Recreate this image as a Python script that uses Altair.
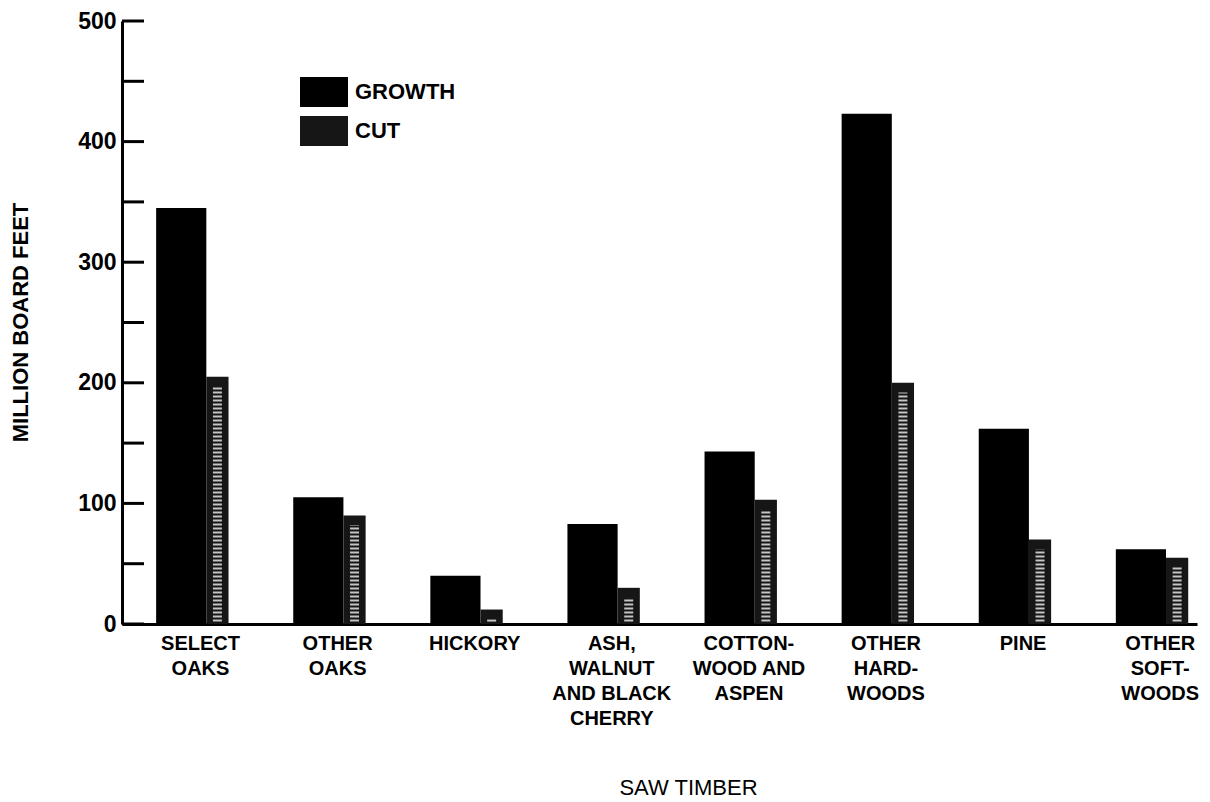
import json
import altair as alt
import pandas as pd

# ---- data ----
LABEL_LINES = [
    ["SELECT", "OAKS"],
    ["OTHER", "OAKS"],
    ["HICKORY"],
    ["ASH,", "WALNUT", "AND BLACK", "CHERRY"],
    ["COTTON-", "WOOD AND", "ASPEN"],
    ["OTHER", "HARD-", "WOODS"],
    ["PINE"],
    ["OTHER", "SOFT-", "WOODS"],
]
GROWTH = [345, 105, 40, 83, 143, 423, 162, 62]
CUT = [205, 90, 12, 30, 103, 200, 70, 55]
SERIES = ["GROWTH", "CUT"]
Y_TICKS = [0, 50, 100, 150, 200, 250, 300, 350, 400, 450, 500]
Y_LABELS = [0, 100, 200, 300, 400, 500]

rows = []
for i, (g, c) in enumerate(zip(GROWTH, CUT)):
    rows.append({"idx": i, "series": "GROWTH", "value": g})
    rows.append({"idx": i, "series": "CUT", "value": c})
df = pd.DataFrame(rows)
ticks_df = pd.DataFrame({"t": Y_TICKS})

FONT = "Liberation Sans"
label_expr = json.dumps(LABEL_LINES) + "[datum.value]"

xscale = alt.Scale(domain=[-0.569, 7.272], nice=False, zero=False)
yscale = alt.Scale(domain=[0, 500], nice=False)

x_axis = alt.Axis(
    values=list(range(len(LABEL_LINES))), labelExpr=label_expr,
    ticks=False, grid=False, domainColor="black", domainWidth=3,
    labelFont=FONT, labelFontSize=20, labelFontWeight="bold",
    labelColor="black", labelLineHeight=25, labelPadding=9,
    labelAlign="center", labelFlush=False, labelOverlap=False,
    title="SAW TIMBER", titleFont=FONT, titleFontSize=22,
    titleFontWeight="normal", titleColor="black",
    titleX=566, titleY=170, titleAlign="center", titleBaseline="alphabetic",
)
y_axis = alt.Axis(
    values=Y_LABELS, ticks=False, grid=False, domainColor="black",
    domainWidth=3, labelFont=FONT, labelFontSize=23,
    labelFontWeight="bold", labelColor="black", labelPadding=6,
    title="MILLION BOARD FEET", titleFont=FONT, titleFontSize=22,
    titleFontWeight="bold", titleColor="black", titleAngle=270,
    titleX=-102, titleY=301, titleAlign="center", titleBaseline="middle",
)

bars = alt.Chart(df).transform_calculate(
    x0="datum.series == 'GROWTH' ? datum.idx - 0.32 : datum.idx + 0.046",
    x1="datum.series == 'GROWTH' ? datum.idx + 0.046 : datum.idx + 0.208",
).mark_bar(strokeWidth=0).encode(
    x=alt.X("x0:Q", scale=xscale, axis=x_axis),
    x2="x1:Q",
    y=alt.Y("value:Q", scale=yscale, axis=y_axis),
    y2=alt.datum(0),
    color=alt.Color(
        "series:N",
        scale=alt.Scale(domain=SERIES, range=["#000000", "#161616"]),
        sort=SERIES,
        legend=alt.Legend(
            title=None, orient="none", legendX=178, legendY=47,
            symbolType="M-1,-0.625H1V0.625H-1Z", symbolSize=2304,
            symbolStrokeWidth=0, labelFont=FONT, labelFontSize=22,
            labelFontWeight="bold", labelColor="black", labelOffset=7,
            rowPadding=-1, padding=0,
        ),
    ),
)

stripes = alt.Chart(df).transform_filter(
    "datum.series == 'CUT'"
).transform_calculate(
    xc="datum.idx + 0.127",
    y0="2",
    y1="max(3, datum.value - 8)",
).mark_rule(strokeWidth=9, color="#c4c4c4", strokeDash=[2, 2]).encode(
    x=alt.X("xc:Q", scale=xscale, axis=x_axis),
    y=alt.Y("y0:Q", scale=yscale, axis=y_axis),
    y2="y1:Q",
)

tick_marks = alt.Chart(ticks_df).mark_rule(strokeWidth=3, color="black").encode(
    y=alt.Y("t:Q", scale=yscale, axis=y_axis),
    x=alt.value(0),
    x2=alt.value(22),
)

chart = alt.layer(bars, stripes, tick_marks).properties(
    width=1075,
    height=603,
    autosize=alt.AutoSizeParams(type="none"),
    padding={"left": 114, "top": 13, "right": 4, "bottom": 174},
    background="white",
).configure_view(stroke=None)

chart.save("out.html", embed_options={"renderer": "svg", "actions": False})
